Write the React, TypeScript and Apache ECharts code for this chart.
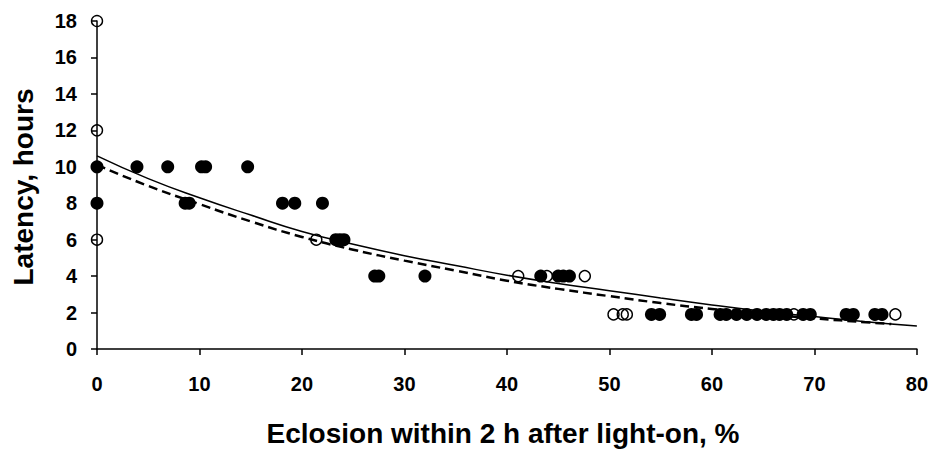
import React, { useEffect, useRef } from "react";
import * as echarts from "echarts";

// Filled circles (x = eclosion %, y = latency h)
const filledX = [0, 3.9, 6.9, 10.2, 10.6, 14.7, 0, 8.6, 9.0, 18.1, 19.3, 22.0, 23.3, 23.7, 24.1, 27.1, 27.5, 32.0, 43.3, 45.0, 45.5, 46.1, 54.1, 54.9, 58.0, 58.5, 60.8, 61.4, 62.4, 63.4, 64.4, 65.3, 66.0, 66.6, 67.3, 68.9, 69.6, 73.1, 73.8, 75.9, 76.6];
const filledY = [10, 10, 10, 10, 10, 10, 8, 8, 8, 8, 8, 8, 6, 6, 6, 4, 4, 4, 4, 4, 4, 4, 1.9, 1.9, 1.9, 1.9, 1.9, 1.9, 1.9, 1.9, 1.9, 1.9, 1.9, 1.9, 1.9, 1.9, 1.9, 1.9, 1.9, 1.9, 1.9];

// Open circles
const openX = [0, 0, 0, 21.4, 41.1, 43.9, 47.6, 50.4, 51.3, 51.7, 68.0, 77.9];
const openY = [18, 12, 6, 6, 4, 4, 4, 1.9, 1.9, 1.9, 1.9, 1.9];

// Fitted curves
const solidX = [0, 5, 10, 15, 20, 25, 30, 35, 40, 45, 50, 55, 60, 65, 70, 75, 80];
const solidY = [10.6, 9.35, 8.3, 7.35, 6.45, 5.75, 5.12, 4.58, 4.05, 3.6, 3.2, 2.8, 2.42, 2.07, 1.78, 1.5, 1.26];
const dashX = [0, 5, 10, 15, 20, 25, 30, 35, 40, 45, 50, 55, 60, 65, 70, 75, 77.5];
const dashY = [10.1, 8.95, 7.95, 7.0, 6.15, 5.45, 4.85, 4.3, 3.75, 3.3, 2.9, 2.52, 2.2, 1.92, 1.68, 1.47, 1.37];

const xTitle = "Eclosion within 2 h after light-on, %";
const yTitle = "Latency, hours";

const FONT = "'Liberation Sans', Arial, sans-serif";

export default function App() {
  const ref = useRef<HTMLDivElement>(null);
  useEffect(() => {
    if (!ref.current) return;
    const chart = echarts.init(ref.current, null, { renderer: "svg" });
    const zip = (xs: number[], ys: number[]) => xs.map((x, i) => [x, ys[i]]);
    chart.setOption({
      animation: false,
      backgroundColor: "#fff",
      grid: { left: 97, right: 14, top: 21, bottom: 101, containLabel: false },
      xAxis: {
        type: "value",
        min: 0,
        max: 80,
        interval: 10,
        axisLine: { show: true, onZero: false, lineStyle: { color: "#000", width: 1.5 } },
        axisTick: { show: true, inside: false, length: 6, lineStyle: { color: "#000", width: 1.5 } },
        axisLabel: { color: "#000", fontFamily: FONT, fontWeight: "bold", fontSize: 20, margin: 25 },
        splitLine: { show: false },
      },
      yAxis: {
        type: "value",
        min: 0,
        max: 18,
        interval: 2,
        axisLine: { show: true, onZero: false, lineStyle: { color: "#000", width: 1.5 } },
        axisTick: { show: true, inside: false, length: 6, lineStyle: { color: "#000", width: 1.5 } },
        axisLabel: { color: "#000", fontFamily: FONT, fontWeight: "bold", fontSize: 20, margin: 20 },
        splitLine: { show: false },
      },
      graphic: [
        {
          type: "text",
          x: 503,
          y: 433,
          style: { text: xTitle, fill: "#000", font: `bold 28px ${FONT}`, textAlign: "center", textVerticalAlign: "middle" },
        },
        {
          type: "text",
          x: 23,
          y: 187,
          rotation: Math.PI / 2,
          style: { text: yTitle, fill: "#000", font: `bold 28px ${FONT}`, textAlign: "center", textVerticalAlign: "middle" },
        },
      ],
      series: [
        {
          type: "line",
          data: zip(solidX, solidY),
          smooth: true,
          showSymbol: false,
          symbol: "none",
          lineStyle: { color: "#000", width: 1.5 },
          z: 3,
        },
        {
          type: "line",
          data: zip(dashX, dashY),
          smooth: true,
          showSymbol: false,
          symbol: "none",
          lineStyle: { color: "#000", width: 2.5, type: [9, 5] },
          z: 3,
        },
        {
          type: "scatter",
          data: zip(openX, openY),
          symbol: "circle",
          symbolSize: 11,
          itemStyle: { color: "none", borderColor: "#000", borderWidth: 1.4, opacity: 1 },
          z: 4,
        },
        {
          type: "scatter",
          data: zip(filledX, filledY),
          symbol: "circle",
          symbolSize: 13,
          itemStyle: { color: "#000", opacity: 1 },
          z: 5,
        },
      ],
    });
    return () => chart.dispose();
  }, []);
  return (
    <div
      ref={ref}
      style={{ position: "fixed", left: 0, top: 0, width: 931, height: 450, background: "#fff" }}
    />
  );
}
